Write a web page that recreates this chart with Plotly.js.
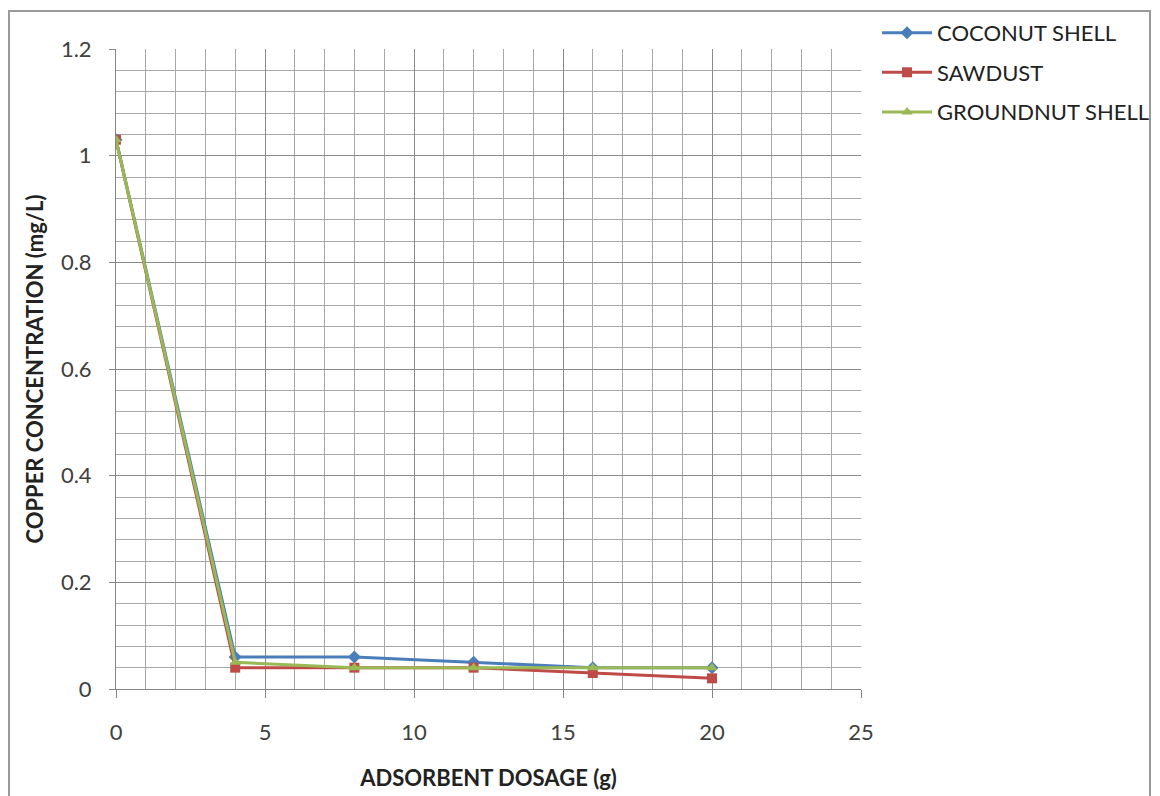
<!DOCTYPE html>
<html>
<head>
<meta charset="utf-8">
<script src="https://cdn.plot.ly/plotly-3.0.1.min.js"></script>
<style>html,body{margin:0;padding:0;background:#fff;}#chart{width:1160px;height:796px;}</style>
</head>
<body>
<div id="chart"></div>
<script>
const dosage = [0, 4, 8, 12, 16, 20];
const coconutShell = [1.03, 0.06, 0.06, 0.05, 0.04, 0.04];
const sawdust = [1.03, 0.04, 0.04, 0.04, 0.03, 0.02];
const groundnutShell = [1.03, 0.05, 0.04, 0.04, 0.04, 0.04];
const seriesNames = ["COCONUT SHELL", "SAWDUST", "GROUNDNUT SHELL"];
const xTitle = "ADSORBENT DOSAGE (g)";
const yTitle = "COPPER CONCENTRATION (mg/L)";

const FONT = "Lato, 'Open Sans', sans-serif";
const colors = ["#4A7EBB", "#BE4B48", "#98B954"];
const symbols = ["diamond", "square", "triangle-up"];
const allY = [coconutShell, sawdust, groundnutShell];

const traces = allY.map((ys, i) => ({
  x: dosage, y: ys, name: seriesNames[i], type: "scatter", mode: "lines+markers",
  legendgroup: "g" + i,
  line: {color: colors[i], width: 3},
  marker: {color: colors[i], symbol: symbols[i], size: 10}
}));

const gridCol = "#8a8a8a";
const layout = {
  width: 1160, height: 796,
  margin: {l: 116, r: 299, t: 49, b: 107, autoexpand: false},
  paper_bgcolor: "#fff", plot_bgcolor: "#fff",
  font: {family: FONT, size: 22, color: "#404040"},
  showlegend: true,
  legend: {x: 1.0215, y: 1.058, xanchor: "left", yanchor: "top", traceorder: "grouped", tracegroupgap: 8,
    itemwidth: 50,
    font: {family: FONT, size: 22, color: "#222"}, bgcolor: "rgba(0,0,0,0)"},
  xaxis: {
    range: [0, 25], dtick: 5, tick0: 0, showgrid: true, gridcolor: gridCol, gridwidth: 1,
    minor: {dtick: 1, showgrid: true, gridcolor: "#a8a8a8", gridwidth: 1},
    showline: true, linecolor: "#868686", linewidth: 1, zeroline: false,
    ticks: "outside", ticklen: 8, tickcolor: "#868686", ticklabelstandoff: 16,
    tickfont: {family: FONT, size: 22, color: "#404040"},
    title: {text: xTitle, standoff: 26, font: {family: FONT, size: 22, color: "#222", weight: "bold"}}
  },
  yaxis: {
    range: [0, 1.2], dtick: 0.2, tick0: 0, showgrid: true, gridcolor: gridCol, gridwidth: 1,
    minor: {dtick: 0.04, showgrid: true, gridcolor: "#a8a8a8", gridwidth: 1},
    showline: true, linecolor: "#868686", linewidth: 1, zeroline: false,
    ticks: "outside", ticklen: 6, tickcolor: "#868686", ticklabelstandoff: 13,
    tickfont: {family: FONT, size: 22, color: "#404040"},
    title: {text: yTitle, standoff: 11, font: {family: FONT, size: 22, color: "#222", weight: "bold"}}
  },
  shapes: [{
    type: "rect", xref: "paper", yref: "paper",
    x0: (9 - 116) / 745, x1: (1150 - 116) / 745, y0: -0.3, y1: (689 - 11) / 640,
    line: {color: "#9a9a9a", width: 2}, fillcolor: "rgba(0,0,0,0)", layer: "below"
  }]
};

Plotly.newPlot("chart", traces, layout, {displayModeBar: false, staticPlot: true});
</script>
</body>
</html>
